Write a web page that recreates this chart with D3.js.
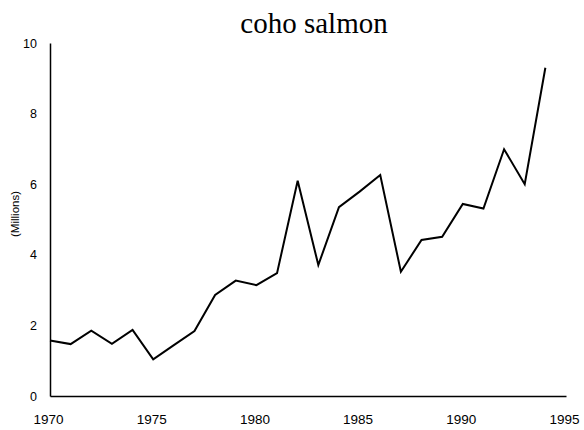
<!DOCTYPE html>
<html>
<head>
<meta charset="utf-8">
<script src="https://cdn.jsdelivr.net/npm/d3@7"></script>
<style>
  body { margin: 0; background: #fff; }
</style>
</head>
<body>
<div id="chart"></div>
<script>
// coho salmon catch, millions
const years = d3.range(1970, 1995);
const catches = [1.57, 1.47, 1.85, 1.48, 1.87, 1.04, 1.44, 1.84, 2.86, 3.27,
                 3.14, 3.48, 6.10, 3.71, 5.35, 5.79, 6.26, 3.52, 4.42, 4.51,
                 5.44, 5.31, 6.99, 6.00, 9.30];
const xTicks = [1970, 1975, 1980, 1985, 1990, 1995];
const yTicks = [0, 2, 4, 6, 8, 10];

const width = 584, height = 430;

const svg = d3.select("#chart").append("svg")
    .attr("width", width)
    .attr("height", height);

const x = d3.scaleLinear().domain([1970, 1995]).range([50, 566]);
const y = d3.scaleLinear().domain([0, 10]).range([396, 43]);

// title
svg.append("text")
    .attr("x", 314)
    .attr("y", 33)
    .attr("text-anchor", "middle")
    .attr("font-family", "Liberation Serif, Times New Roman, serif")
    .attr("font-size", 29)
    .text("coho salmon");

// axes
const xAxis = svg.append("g")
    .attr("transform", `translate(0,${y(0)})`)
    .call(d3.axisBottom(x).tickValues(xTicks).tickFormat(d3.format("d")).tickSize(0).tickPadding(18));
const yAxis = svg.append("g")
    .attr("transform", `translate(${x(1970)},0)`)
    .call(d3.axisLeft(y).tickValues(yTicks).tickSize(0).tickPadding(13));

[xAxis, yAxis].forEach(g => {
    g.select(".domain").attr("stroke", "#000").attr("stroke-width", 1.5);
    g.selectAll("text")
        .attr("font-family", "Liberation Sans, Arial, sans-serif")
        .attr("fill", "#000");
});
xAxis.selectAll("text").attr("font-size", 13.5).attr("dx", -2);
yAxis.selectAll("text").attr("font-size", 12.5);

// y label
svg.append("text")
    .attr("transform", "translate(19,214) rotate(-90)")
    .attr("text-anchor", "middle")
    .attr("font-family", "Liberation Sans, Arial, sans-serif")
    .attr("font-size", 11.5)
    .text("(Millions)");

// line
const line = d3.line()
    .x((d, i) => x(years[i]))
    .y(d => y(d));

svg.append("path")
    .datum(catches)
    .attr("fill", "none")
    .attr("stroke", "#000")
    .attr("stroke-width", 2)
    .attr("stroke-linejoin", "miter")
    .attr("d", line);
</script>
</body>
</html>
